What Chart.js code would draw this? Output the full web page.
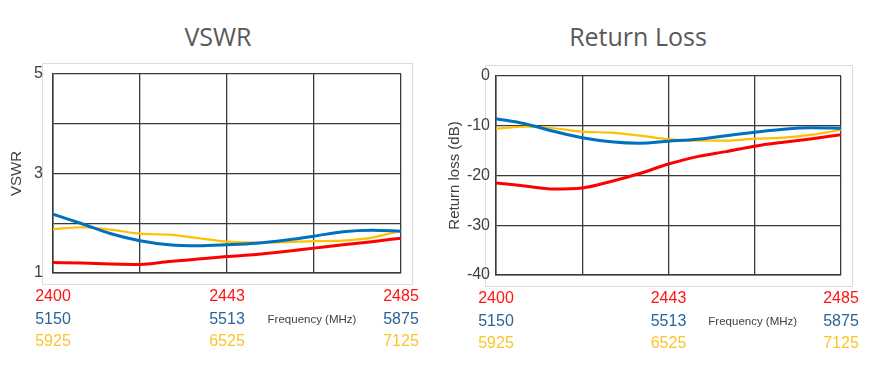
<!DOCTYPE html>
<html>
<head>
<meta charset="utf-8">
<script src="https://cdn.jsdelivr.net/npm/chart.js@4.4.1/dist/chart.umd.min.js"></script>
<style>
  html, body { margin: 0; padding: 0; background: #ffffff; }
  body { width: 873px; height: 367px; position: relative; overflow: hidden; }
  .title { position: absolute; top: 16px; font-family: "Open Sans", sans-serif; font-size: 25px; color: #595959; text-align: center; line-height: 40px; }
  #t1 { left: 118px; width: 200px; }
  #t2 { left: 538px; width: 200px; }
  #c1 { position: absolute; left: 0; top: 0; }
  #c2 { position: absolute; left: 436px; top: 0; }
</style>
</head>
<body>
<div class="title" id="t1">VSWR</div>
<div class="title" id="t2">Return Loss</div>
<canvas id="c1" width="436" height="367"></canvas>
<canvas id="c2" width="437" height="367"></canvas>
<script>
// Relative position across each band (0 = start, 1 = end)
const xPos = [0, 1/12, 2/12, 3/12, 4/12, 5/12, 6/12, 7/12, 8/12, 9/12, 10/12, 11/12, 1];

// Band tick labels (start, middle, end)
const band24Labels = ['2400', '2443', '2485'];
const band5Labels  = ['5150', '5513', '5875'];
const band6Labels  = ['5925', '6525', '7125'];
const bandLabelPos = [0, 0.5, 1];

// VSWR values
const vswr24 = [1.21, 1.20, 1.18, 1.17, 1.23, 1.28, 1.33, 1.37, 1.43, 1.50, 1.57, 1.63, 1.70];
const vswr5  = [2.18, 1.99, 1.79, 1.65, 1.57, 1.55, 1.57, 1.60, 1.66, 1.74, 1.83, 1.86, 1.84];
const vswr6  = [1.88, 1.92, 1.87, 1.79, 1.77, 1.70, 1.63, 1.61, 1.62, 1.64, 1.65, 1.71, 1.85];

// Return loss values (dB)
const rl24 = [-21.5, -22.1, -22.7, -22.5, -21.2, -19.6, -17.7, -16.2, -15.2, -14.1, -13.3, -12.6, -11.8];
const rl5  = [-8.6, -9.6, -11.1, -12.4, -13.2, -13.5, -13.1, -12.7, -12.0, -11.3, -10.7, -10.4, -10.5];
const rl6  = [-10.6, -10.2, -10.5, -11.2, -11.4, -12.0, -12.7, -13.0, -13.0, -12.6, -12.4, -11.8, -10.8];

const vswrTickLabels = [1, 3, 5];
const rlTickLabels = [0, -10, -20, -30, -40];

const RED = '#ff0000', BLUE = '#0070c0', YELLOW = '#ffc000';
const RED_T = '#ff1414', BLUE_T = '#2a6599', YELLOW_T = '#f8c62a';
const GRID = '#3a3a3a';

function pts(ys) { return ys.map((y, i) => ({ x: xPos[i], y: y })); }

function makeDatasets(a24, a5, a6) {
  return [
    { label: '2.4 GHz', data: pts(a24), borderColor: RED, borderWidth: 3, order: 0 },
    { label: '5 GHz', data: pts(a5), borderColor: BLUE, borderWidth: 3, order: 1 },
    { label: '6 GHz', data: pts(a6), borderColor: YELLOW, borderWidth: 2.2, order: 2 }
  ].map(d => Object.assign(d, { pointRadius: 0, fill: false, cubicInterpolationMode: 'monotone' }));
}

const frameBox = {
  id: 'frameBox',
  beforeDraw(chart, args, opts) {
    const ctx = chart.ctx;
    ctx.save();
    ctx.strokeStyle = '#dcdcdc';
    ctx.lineWidth = 1;
    ctx.strokeRect(opts.x + 0.5, opts.y + 0.5, opts.w, opts.h);
    ctx.restore();
  }
};

const bandLabels = {
  id: 'bandLabels',
  afterDraw(chart) {
    const ctx = chart.ctx;
    const xs = chart.scales.x;
    const bottom = chart.chartArea.bottom;
    const rows = [
      { labels: band24Labels, color: RED_T, dy: 24 },
      { labels: band5Labels, color: BLUE_T, dy: 47 },
      { labels: band6Labels, color: YELLOW_T, dy: 69 }
    ];
    ctx.save();
    ctx.font = '16px "Liberation Sans", Arial, sans-serif';
    ctx.textAlign = 'center';
    ctx.textBaseline = 'middle';
    rows.forEach(r => {
      ctx.fillStyle = r.color;
      r.labels.forEach((t, i) => {
        ctx.fillText(t, xs.getPixelForValue(bandLabelPos[i]), bottom + r.dy);
      });
    });
    ctx.fillStyle = '#404040';
    ctx.font = '11.5px "Liberation Sans", Arial, sans-serif';
    ctx.fillText('Frequency (MHz)', xs.getPixelForValue(0.75) - 2, bottom + 47);
    ctx.restore();
  }
};

function makeChart(canvasId, datasets, yCfg, layoutPad, yWidth, box) {
  return new Chart(document.getElementById(canvasId), {
    type: 'line',
    data: { datasets: datasets },
    options: {
      responsive: false,
      animation: false,
      events: [],
      layout: { padding: layoutPad },
      plugins: { legend: { display: false }, tooltip: { enabled: false }, frameBox: box },
      scales: {
        x: {
          type: 'linear', min: 0, max: 1,
          ticks: { display: false, stepSize: 0.25 },
          grid: { color: GRID, lineWidth: 1.3, drawTicks: false },
          border: { color: GRID, width: 1.5 },
          afterFit(s) { s.height = 0; }
        },
        y: Object.assign({
          grid: { color: GRID, lineWidth: 1.3, drawTicks: false },
          border: { color: GRID, width: 1.5 },
          afterFit(s) { s.width = yWidth; }
        }, yCfg)
      }
    },
    plugins: [frameBox, bandLabels]
  });
}

makeChart('c1', makeDatasets(vswr24, vswr5, vswr6), {
  min: 1, max: 5,
  ticks: {
    stepSize: 1, padding: 10, color: '#404040',
    font: { family: '"Liberation Sans", Arial, sans-serif', size: 16 },
    callback: v => vswrTickLabels.includes(v) ? String(v) : ''
  },
  title: { display: true, text: 'VSWR', color: '#404040', padding: { top: 8, bottom: 0 },
    font: { family: '"Liberation Sans", Arial, sans-serif', size: 15 } }
}, { top: 74, bottom: 94, left: 0, right: 35 }, 53, { x: 42, y: 63, w: 370, h: 221 });

makeChart('c2', makeDatasets(rl24, rl5, rl6), {
  min: -40, max: 0,
  ticks: {
    stepSize: 10, padding: 6, color: '#404040',
    font: { family: '"Liberation Sans", Arial, sans-serif', size: 16 },
    callback: v => rlTickLabels.includes(v) ? String(v) : ''
  },
  title: { display: true, text: 'Return loss (dB)', color: '#404040', padding: { top: 10, bottom: 0 },
    font: { family: '"Liberation Sans", Arial, sans-serif', size: 15 } }
}, { top: 76, bottom: 92, left: 0, right: 32 }, 60, { x: 49, y: 65, w: 367, h: 221 });
</script>
</body>
</html>
